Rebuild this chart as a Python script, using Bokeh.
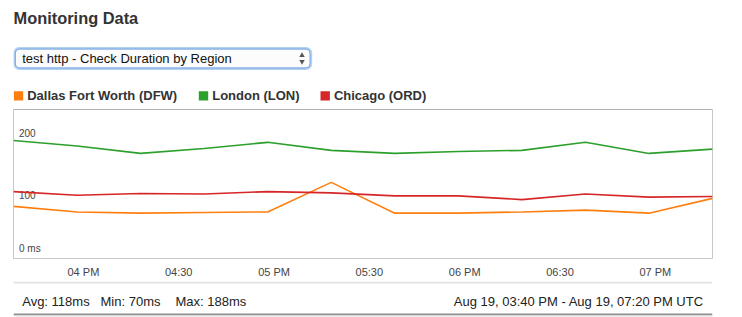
import numpy as np
import pandas as pd
from bokeh.plotting import figure
from bokeh.models import Range1d, DatetimeAxis, FixedTicker, Span
from bokeh.layouts import column
from bokeh.embed import file_html
from bokeh.resources import INLINE
from bokeh.core.properties import value

# ---------------- data ----------------
TITLE = "Monitoring Data"
SELECTOR = "test http - Check Duration by Region"
SERIES = ["Dallas Fort Worth (DFW)", "London (LON)", "Chicago (ORD)"]
COLORS = ["#ff7f0e", "#2ca02c", "#d62728"]
TIMES = pd.date_range("2014-08-19 15:40", "2014-08-19 19:20", freq="20min")
DFW = [81, 72, 70, 71, 72, 120, 70, 70, 72, 75, 70, 94]
LON = [188, 179, 167, 175, 185, 172, 167, 170, 172, 185, 167, 174]
ORD = [105, 99, 102, 101, 105, 103, 98, 98, 92, 101, 96, 97]
Y_TICKS = [0, 100, 200]
Y_TICK_LABELS = ["0 ms", "100", "200"]
X_TICKS = pd.date_range("2014-08-19 16:00", "2014-08-19 19:00", freq="30min")
X_TICK_LABELS = ["04 PM", "04:30", "05 PM", "05:30", "06 PM", "06:30", "07 PM"]

# ---------------- layout constants ----------------
W = 742
FL, FR = 13, 712          # frame left / right in page pixels
FONT = "Liberation Sans"
LEGEND_X = [13.3, 198.3, 320.0]


def canvas(h):
    # a figure whose frame matches the chart frame horizontally; data units = page pixels
    f = figure(width=W, height=h, x_range=Range1d(FL, FR), y_range=Range1d(h, 0),
               output_backend="svg", toolbar_location=None,
               x_axis_location=None, y_axis_location=None,
               min_border_left=FL, min_border_right=W - FR,
               min_border_top=0, min_border_bottom=0, outline_line_color=None,
               background_fill_color="white", border_fill_color="white")
    f.grid.visible = False
    return f


# ---------------- header ----------------
hdr = canvas(109)
hdr.text(x=[13], y=[17.2], text=[TITLE], text_font=value(FONT),
         text_font_style="bold", text_font_size="16.4px", text_color="#333333",
         text_baseline="middle")
# select box
hdr.quad(left=[13.7], right=[310.7], top=[47.6], bottom=[68.4], border_radius=5,
         fill_color=None, line_color="#b4d0f3", line_width=2)
hdr.quad(left=[14.8], right=[309.6], top=[48.6], bottom=[67.4], border_radius=4,
         fill_color="#fcfcfc", line_color="#6c9fdd", line_width=1)
hdr.text(x=[21.7], y=[57.5], text=[SELECTOR], text_font=value(FONT),
         text_font_size="13px", text_color="#111111", text_baseline="middle")
hdr.scatter(x=[301.5], y=[55.0], marker="triangle", size=5.5,
            fill_color="#555555", line_color=None)
hdr.scatter(x=[301.5], y=[61.0], marker="inverted_triangle", size=5.5,
            fill_color="#555555", line_color=None)
# legend
for lx, name, color in zip(LEGEND_X, SERIES, COLORS):
    hdr.quad(left=[lx], right=[lx + 9.4], top=[90.7], bottom=[100.1],
             fill_color=color, line_color=None)
    hdr.text(x=[lx + 13.4], y=[95.4], text=[name], text_font=value(FONT),
             text_font_style="bold", text_font_size="13px", text_color="#333333",
             text_baseline="middle")

# ---------------- chart ----------------
p = figure(width=W, height=172, x_axis_type="datetime",
           x_range=Range1d(TIMES[0], TIMES[-1]), y_range=Range1d(-3.6, 238.3),
           output_backend="svg", toolbar_location=None,
           x_axis_location=None, y_axis_location=None,
           min_border_left=FL, min_border_right=W - FR, min_border_top=0, min_border_bottom=23,
           outline_line_color="#c8c8c8", outline_line_width=1,
           background_fill_color="white", border_fill_color="white")
p.grid.visible = False
p.add_layout(Span(location=238.3, dimension="width", line_color="#999999", line_width=1))

p.extra_x_ranges = {"ticks": Range1d(TIMES[0] - pd.Timedelta("2min"),
                                     TIMES[-1] - pd.Timedelta("2min"))}
tick_ms = [float(t.value / 1e6) for t in X_TICKS]
xax = DatetimeAxis(x_range_name="ticks", ticker=FixedTicker(ticks=tick_ms, minor_ticks=[]),
                   major_label_overrides=dict(zip(tick_ms, X_TICK_LABELS)),
                   axis_line_color=None, major_tick_line_color=None,
                   minor_tick_line_color=None, major_tick_in=0, major_tick_out=0,
                   major_label_standoff=7, major_label_text_font=FONT,
                   major_label_text_font_size="11px", major_label_text_color="#444444")
p.add_layout(xax, "below")

p.text(x=pd.DatetimeIndex([TIMES[0]] * len(Y_TICKS)), y=Y_TICKS, text=Y_TICK_LABELS,
       x_offset=5.5, y_offset=[-8, 0, 0], text_font=value(FONT), text_font_size="10px",
       text_color="#444444", text_baseline="middle")

for vals, color in zip([DFW, LON, ORD], COLORS):
    p.line(TIMES, vals, line_color=color, line_width=1.6)

# ---------------- footer ----------------
allv = np.array(DFW + LON + ORD)
stats = [f"Avg: {int(round(allv.mean()))}ms", f"Min: {allv.min()}ms", f"Max: {allv.max()}ms"]
span_txt = (f"{TIMES[0].strftime('%b %d, %I:%M %p')} - "
            f"{TIMES[-1].strftime('%b %d, %I:%M %p')} UTC")

ftr = canvas(36)
ftr.segment(x0=[13], y0=[1], x1=[712], y1=[1], line_color="#e2e2e2", line_width=2)
ftr.add_layout(Span(location=33, dimension="width", line_color="#8e8e8e", line_width=2))
ftr.add_layout(Span(location=35.5, dimension="width", line_color="#ececec", line_width=3))
ftr.text(x=[21.7, 100, 175], y=[20] * 3, text=stats, text_font=value(FONT),
         text_font_size="13px", text_color="#222222", text_baseline="middle")
ftr.text(x=[703.3], y=[20], text=[span_txt], text_font=value(FONT),
         text_font_size="13px", text_color="#222222", text_baseline="middle",
         text_align="right")

layout = column(hdr, p, ftr, spacing=0)
open("out.html", "w").write(file_html(layout, INLINE))
